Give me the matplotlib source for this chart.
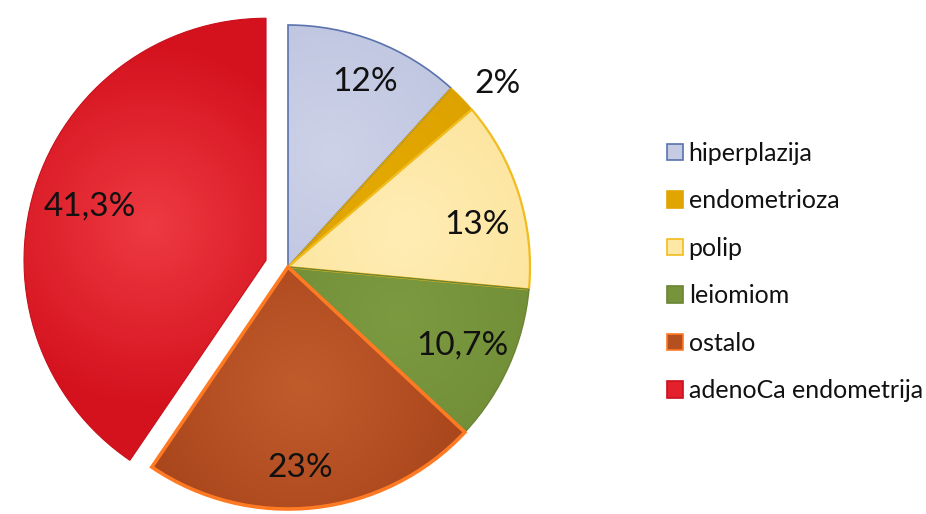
import numpy as np
import matplotlib
matplotlib.use("Agg")
import matplotlib.pyplot as plt
from matplotlib.patches import Patch
from matplotlib.colors import to_rgb

categories = ["hiperplazija", "endometrioza", "polip", "leiomiom", "ostalo", "adenoCa endometrija"]
values = [12, 2, 13, 10.7, 23, 41.3]
pct_labels = ["12%", "2%", "13%", "10,7%", "23%", "41,3%"]

fills = ["#C5CBE3", "#E0A500", "#FEE8A6", "#77933C", "#B4501F", "#E3202B"]
edges = ["#5A73AE", "#E0A500", "#F2BC1E", "#6A8434", "#FF7A22", "#C8101C"]
# gradient (centre colour, outer colour) per slice
grad = [("#CDD2E8", "#BCC3DE"), ("#E3A800", "#DCA000"), ("#FFEDB4", "#FCE39A"),
        ("#7C9A40", "#6F8C36"), ("#C05C2C", "#A8441A"), ("#EE3A42", "#D4121E")]
lws = [1.2, 1.0, 1.6, 1.0, 2.6, 0.8]
explode_frac = [0, 0, 0, 0, 0, 0.095]
label_r = [0.83, 1.15, 0.80, 0.79, 0.83, 0.76]
label_dang = [1.5, 3.0, 5.0, 0.0, 3.0, 0.0]

plt.rcParams['font.family'] = ['Lato', 'DejaVu Sans']

W, H = 926, 514
fig = plt.figure(figsize=(W / 100, H / 100), dpi=100)
ax = fig.add_axes([0, 0, 1, 1])

cx, cy, R = 288, H - 267, 242
wedges, _ = ax.pie(values, colors=fills, explode=[e * R for e in explode_frac], startangle=90,
                   counterclock=False, center=(cx, cy), radius=R,
                   wedgeprops=dict(linewidth=1.0))

yy, xx = np.mgrid[0:H, 0:W]
yy = H - yy
for w, ec, lw, (c0, c1) in zip(wedges, edges, lws, grad):
    th = np.deg2rad((w.theta1 + w.theta2) / 2)
    x0, y0 = w.center
    gx, gy = x0 + 0.5 * R * np.cos(th), y0 + 0.5 * R * np.sin(th)
    d = np.clip(np.hypot(xx - gx, yy - gy) / (0.75 * R), 0, 1)[..., None]
    img = np.array(to_rgb(c0)) * (1 - d) + np.array(to_rgb(c1)) * d
    im = ax.imshow(img, extent=(0, W, 0, H), origin='upper', zorder=0.5, interpolation='bilinear')
    im.set_clip_path(w)
    w.set_facecolor('none')
    w.set_edgecolor(ec)
    w.set_linewidth(lw)
    w.set_joinstyle('miter')
    w.set_zorder(1)

for w, lab, rf, da in zip(wedges, pct_labels, label_r, label_dang):
    th = np.deg2rad((w.theta1 + w.theta2) / 2 - da)
    x0, y0 = w.center
    ax.text(x0 + rf * R * np.cos(th), y0 + rf * R * np.sin(th), lab,
            ha='center', va='center', fontsize=24, color='#111111', zorder=3)

ax.set_xlim(0, W)
ax.set_ylim(0, H)
ax.set_aspect('equal')
ax.axis('off')

handles = [Patch(facecolor=f, edgecolor=e, linewidth=1.2) for f, e in zip(fills, edges)]
leg = ax.legend(handles, categories, loc='center left', bbox_to_anchor=(657 / W, 1 - 272 / H),
                frameon=False, fontsize=18, handlelength=0.62, handleheight=0.62,
                handletextpad=0.25, labelspacing=0.98, borderaxespad=0)
for t in leg.get_texts():
    t.set_color('#111111')

fig.savefig("out.png", dpi=100)
